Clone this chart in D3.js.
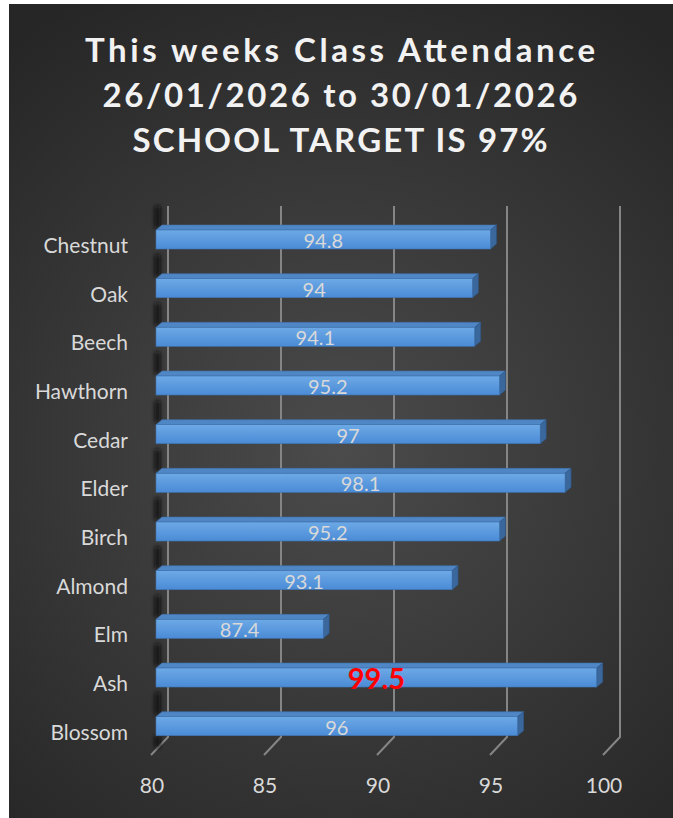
<!DOCTYPE html>
<html>
<head>
<meta charset="utf-8">
<script src="https://cdn.jsdelivr.net/npm/d3@7"></script>
<style>
  body { margin: 0; background: #fff; }
  text { font-family: Lato, "Open Sans", sans-serif; }
</style>
</head>
<body>
<div id="viz"></div>
<script>
// chart data
var classes = ["Chestnut", "Oak", "Beech", "Hawthorn", "Cedar", "Elder", "Birch", "Almond", "Elm", "Ash", "Blossom"];
var attendance = [94.8, 94, 94.1, 95.2, 97, 98.1, 95.2, 93.1, 87.4, 99.5, 96];
var highlight = ["Ash"];
var ticks = [80, 85, 90, 95, 100];
var titleLines = ["This weeks Class Attendance", "26/01/2026 to 30/01/2026", "SCHOOL TARGET IS 97%"];

var width = 673, height = 818;

var svg = d3.select("#viz").append("svg")
    .attr("width", width)
    .attr("height", height);

var defs = svg.append("defs");

var bg = defs.append("radialGradient")
    .attr("id", "bg")
    .attr("gradientUnits", "userSpaceOnUse")
    .attr("cx", 340).attr("cy", 450).attr("r", 520);
bg.append("stop").attr("offset", "0%").attr("stop-color", "#4b4b4b");
bg.append("stop").attr("offset", "100%").attr("stop-color", "#262626");

var front = defs.append("linearGradient")
    .attr("id", "front").attr("x1", 0).attr("y1", 0).attr("x2", 0).attr("y2", 1);
front.append("stop").attr("offset", "0%").attr("stop-color", "#6da9e6");
front.append("stop").attr("offset", "100%").attr("stop-color", "#4a8bd6");

defs.append("filter").attr("id", "blur")
    .attr("x", "-100%").attr("y", "-20%").attr("width", "300%").attr("height", "140%")
    .append("feGaussianBlur").attr("stdDeviation", 2);

svg.append("rect")
    .attr("x", 9).attr("y", 4)
    .attr("width", width - 9).attr("height", height - 4)
    .attr("fill", "url(#bg)");

// title
svg.append("g").selectAll("text")
    .data(titleLines)
    .enter().append("text")
    .attr("x", 340)
    .attr("y", function(d, i) { return 62 + i * 45; })
    .attr("text-anchor", "middle")
    .attr("font-size", 33)
    .attr("font-weight", "bold")
    .attr("fill", "#f2f2f2")
    .attr("textLength", function(d, i) { return [510, 475, 415][i]; })
    .attr("lengthAdjust", "spacing")
    .text(function(d) { return d; });

// scales: back wall and bar front face
var xBack = d3.scaleLinear().domain([80, 100]).range([168, 620]);
var xBar = d3.scaleLinear().domain([80, 100]).range([156, 608]);
var y = d3.scalePoint().domain(classes).range([239.5, 726.2]);

var wallTop = 206, wallBottom = 737;
var floorDx = -17, floorDy = 18;
var barH = 19, dX = 6, dY = 5;

// gridlines
var grid = svg.append("g");
ticks.forEach(function(t) {
    var gx = xBack(t);
    grid.append("path")
        .attr("d", "M" + gx + "," + wallTop + "L" + gx + "," + wallBottom + "L" + (gx + floorDx) + "," + (wallBottom + floorDy))
        .attr("fill", "none")
        .attr("stroke", "#858585")
        .attr("stroke-width", 2);
});

// left side wall shadow
var wall = svg.append("g").attr("filter", "url(#blur)");
classes.forEach(function(c, i) {
    var top = y(c) - barH / 2 - 24;
    wall.append("rect")
        .attr("x", 155).attr("y", top)
        .attr("width", 5).attr("height", 22)
        .attr("fill", "#111");
});
wall.append("rect")
    .attr("x", 155).attr("y", y(classes[classes.length - 1]) + barH / 2)
    .attr("width", 5).attr("height", 12)
    .attr("fill", "#111");

// bars
var bars = svg.append("g").selectAll("g")
    .data(classes)
    .enter().append("g");

bars.append("path")
    .attr("d", function(d, i) {
        var x0 = xBar(80), x1 = xBar(attendance[i]), t = y(d) - barH / 2;
        return "M" + x0 + "," + t + "L" + (x0 + dX) + "," + (t - dY) + "L" + (x1 + dX) + "," + (t - dY) + "L" + x1 + "," + t + "Z";
    })
    .attr("fill", "#4f86c6")
    .attr("stroke", "#3f6fa6").attr("stroke-width", 0.6);

bars.append("path")
    .attr("d", function(d, i) {
        var x1 = xBar(attendance[i]), t = y(d) - barH / 2;
        return "M" + x1 + "," + t + "L" + (x1 + dX) + "," + (t - dY) + "L" + (x1 + dX) + "," + (t - dY + barH) + "L" + x1 + "," + (t + barH) + "Z";
    })
    .attr("fill", "#3a679c")
    .attr("stroke", "#2f5888").attr("stroke-width", 0.6);

bars.append("rect")
    .attr("x", xBar(80))
    .attr("y", function(d) { return y(d) - barH / 2; })
    .attr("width", function(d, i) { return xBar(attendance[i]) - xBar(80); })
    .attr("height", barH)
    .attr("fill", "url(#front)")
    .attr("stroke", "#3f73b0").attr("stroke-width", 0.6);

// value labels
bars.append("text")
    .attr("x", function(d, i) { return (xBar(80) + xBar(attendance[i])) / 2; })
    .attr("y", function(d) { return y(d) + 1.5; })
    .attr("dy", "0.35em")
    .attr("text-anchor", "middle")
    .attr("font-size", function(d) { return highlight.indexOf(d) >= 0 ? 29 : 20; })
    .attr("font-weight", function(d) { return highlight.indexOf(d) >= 0 ? "bold" : "normal"; })
    .attr("fill", function(d) { return highlight.indexOf(d) >= 0 ? "#ff0000" : "#d9d9d9"; })
    .text(function(d, i) { return attendance[i]; });

// category labels
svg.append("g").selectAll("text")
    .data(classes)
    .enter().append("text")
    .attr("x", 128)
    .attr("y", function(d) { return y(d) + 6; })
    .attr("dy", "0.35em")
    .attr("text-anchor", "end")
    .attr("font-size", 21)
    .attr("fill", "#d9d9d9")
    .text(function(d) { return d; });

// value axis labels
svg.append("g").selectAll("text")
    .data(ticks)
    .enter().append("text")
    .attr("x", function(d) { return xBack(d) - 16; })
    .attr("y", 786)
    .attr("dy", "0.35em")
    .attr("text-anchor", "middle")
    .attr("font-size", 21)
    .attr("fill", "#d9d9d9")
    .text(function(d) { return d; });
</script>
</body>
</html>
